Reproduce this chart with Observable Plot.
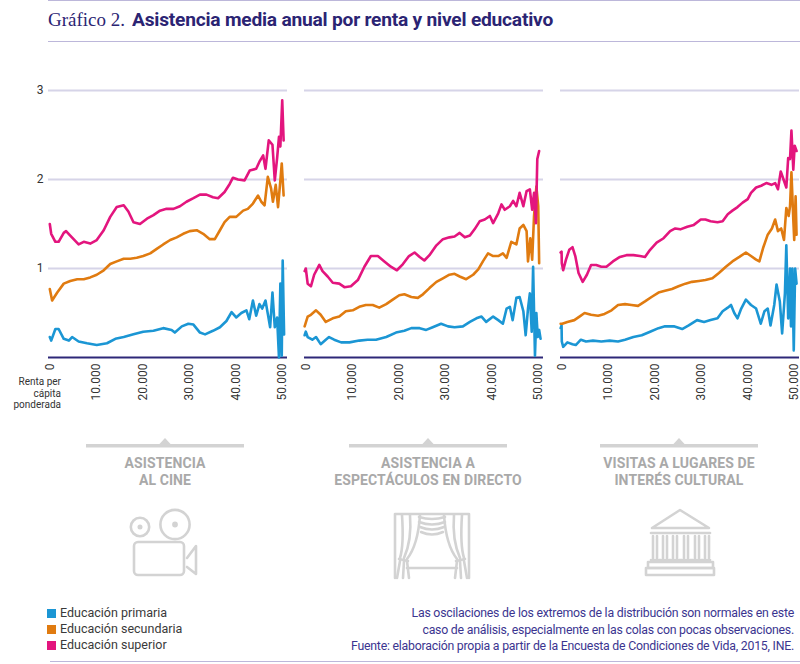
<!DOCTYPE html>
<html>
<head>
<meta charset="utf-8">
<script src="https://cdn.jsdelivr.net/npm/d3@7"></script>
<script src="https://cdn.jsdelivr.net/npm/@observablehq/plot@0.6"></script>
<style>
  html, body { margin: 0; padding: 0; background: #fff; }
  #root { position: relative; width: 800px; height: 664px; overflow: hidden; font-family: Roboto, "Liberation Sans", sans-serif; }
  .rule { position: absolute; height: 0; border-top: 1.5px solid #bcb7da; }
  #title { position: absolute; left: 48px; top: 9px; white-space: nowrap; color: #2b2473; }
  #title .num { font-family: "Liberation Serif", "DejaVu Serif", serif; font-size: 19px; font-weight: normal; }
  #title .txt { display: inline-block; font-family: Roboto, sans-serif; font-weight: 700; font-size: 18px; transform-origin: left center; margin-left: 7px; letter-spacing: -0.2px; }
  #chart { position: absolute; left: 0; top: 50px; }
  #xlabel { position: absolute; left: 0; width: 61px; top: 376px; text-align: right; font-size: 10px; line-height: 11.5px; color: #333; }
  .plabel { position: absolute; width: 260px; text-align: center; font-weight: 700; font-size: 14px; line-height: 17px; color: #a9a9a9; top: 455px; letter-spacing: 0.1px; }
  #legend { position: absolute; left: 47px; top: 605px; font-size: 12.5px; color: #3a3a3a; line-height: 16px; }
  #legend .it { display: flex; align-items: center; }
  #legend .sw { width: 9px; height: 9px; margin-right: 4px; }
  #caption { position: absolute; right: 6px; top: 605px; text-align: right; color: #3b3590; line-height: 16.5px; font-size: 12.3px; }
  #caption span { display: inline-block; white-space: nowrap; }
  #deco { position: absolute; left: 0; top: 0; }
</style>
</head>
<body>
<div id="root">
  <div class="rule" style="left:48px; width:752px; top:0px;"></div>
  <div id="title"><span class="num">Gráfico 2.</span><span class="txt" id="ttxt">Asistencia media anual por renta y nivel educativo</span></div>
  <div class="rule" style="left:48px; width:752px; top:41px;"></div>
  <div id="chart"></div>
  <div id="xlabel">Renta per<br>cápita<br>ponderada</div>
  <svg id="deco" width="800" height="664"></svg>
  <div id="plabels"></div>
  <div id="legend"></div>
  <div id="caption"></div>
  <div class="rule" style="left:50px; width:750px; top:661px;"></div>
</div>
<script>
// ---------- data ----------
const panelKeys = ["cine", "directo", "cultural"];
const panelTitles = [["ASISTENCIA", "AL CINE"], ["ASISTENCIA A", "ESPECTÁCULOS EN DIRECTO"], ["VISITAS A LUGARES DE", "INTERÉS CULTURAL"]];
const seriesNames = ["Educación primaria", "Educación secundaria", "Educación superior"];
const seriesColors = ["#1b96d4", "#e07b10", "#e3157e"];
const xTicks = [0, 10000, 20000, 30000, 40000, 50000];
const yTicks = [1, 2, 3];

const cinePrimaria = [[0,0.23],[300,0.19],[1200,0.32],[1900,0.32],[3000,0.21],[4100,0.19],[4800,0.23],[6200,0.18],[8000,0.16],[10100,0.14],[12300,0.16],[14100,0.21],[15900,0.23],[18000,0.26],[20100,0.29],[22300,0.30],[24400,0.33],[26200,0.31],[26900,0.28],[28400,0.35],[29800,0.38],[30900,0.37],[32300,0.28],[33400,0.26],[35100,0.30],[36600,0.34],[38000,0.41],[39100,0.51],[40100,0.45],[41200,0.50],[42300,0.53],[42900,0.43],[43700,0.64],[44400,0.47],[45100,0.60],[45700,0.55],[46400,0.64],[46900,0.49],[47400,0.34],[47900,0.73],[48400,0.34],[48900,0.45],[49300,0.00],[49600,0.83],[49900,0.02],[50100,1.09],[50400,0.26]];
const cineSecundaria = [[0,0.77],[500,0.64],[1600,0.73],[3000,0.83],[4400,0.86],[5900,0.88],[7300,0.88],[8700,0.90],[10100,0.93],[11600,0.98],[13000,1.05],[14400,1.08],[15900,1.11],[17300,1.11],[18700,1.12],[20100,1.14],[21600,1.17],[23000,1.22],[24400,1.27],[25900,1.32],[27300,1.35],[28700,1.39],[30100,1.42],[31600,1.43],[33000,1.39],[34400,1.33],[35500,1.33],[36600,1.43],[37600,1.52],[38700,1.58],[40100,1.58],[41600,1.65],[42600,1.67],[43700,1.73],[44800,1.82],[45500,1.75],[46200,1.71],[46900,2.03],[47600,1.90],[48000,1.75],[48600,1.94],[49100,1.69],[49600,1.99],[49900,2.18],[50300,1.82]];
const cineSuperior = [[0,1.50],[300,1.39],[1200,1.30],[1900,1.30],[3000,1.40],[3500,1.42],[4400,1.37],[6200,1.27],[7300,1.30],[8700,1.28],[10100,1.32],[11600,1.43],[13000,1.58],[14400,1.69],[15900,1.71],[16900,1.64],[18000,1.52],[19400,1.50],[20900,1.56],[22300,1.60],[23700,1.65],[25100,1.67],[26600,1.67],[28000,1.70],[29400,1.75],[30900,1.79],[32300,1.83],[33700,1.83],[35100,1.80],[36200,1.79],[37600,1.86],[38700,1.95],[39400,2.02],[40500,2.00],[41900,1.99],[43000,2.10],[44400,2.12],[45100,2.20],[45900,2.27],[46400,2.12],[47100,2.44],[47900,2.39],[48400,1.99],[48900,2.24],[49300,2.48],[49600,2.37],[50000,2.89],[50300,2.44]];

const directoPrimaria = [[-250,0.25],[0,0.29],[400,0.23],[1400,0.20],[2200,0.23],[3200,0.15],[4300,0.20],[5000,0.23],[6100,0.20],[7600,0.17],[9400,0.17],[11500,0.19],[13300,0.20],[15100,0.20],[17300,0.23],[19400,0.28],[21200,0.30],[22700,0.33],[24500,0.33],[25900,0.31],[27300,0.34],[29100,0.38],[30600,0.35],[32000,0.34],[33800,0.35],[35300,0.40],[36700,0.44],[37800,0.46],[38800,0.40],[40300,0.46],[41400,0.42],[42400,0.38],[43200,0.55],[43900,0.57],[44500,0.42],[45300,0.67],[46000,0.68],[46800,0.52],[47300,0.25],[47800,0.55],[48200,0.72],[48600,0.29],[48900,1.02],[49300,0.02],[49600,0.50],[49900,0.23],[50200,0.31],[50500,0.21]];
const directoSecundaria = [[-250,0.35],[400,0.46],[1100,0.48],[2200,0.53],[3200,0.48],[4300,0.40],[5800,0.44],[7200,0.46],[8600,0.52],[10100,0.53],[11500,0.57],[12900,0.59],[14400,0.59],[15800,0.56],[17300,0.60],[18700,0.65],[20100,0.70],[21200,0.71],[22700,0.68],[24100,0.67],[25200,0.71],[26600,0.78],[28100,0.85],[29500,0.89],[30900,0.93],[32000,0.94],[33100,0.91],[34500,0.88],[36000,0.93],[37100,0.99],[38100,1.08],[39200,1.17],[40300,1.14],[41400,1.14],[42400,1.17],[43200,1.12],[44200,1.30],[45300,1.27],[46000,1.45],[46800,1.49],[47500,1.42],[47800,1.08],[48300,1.34],[48700,1.10],[49100,1.59],[49600,1.92],[50000,1.70],[50200,1.06]];
const directoSuperior = [[-250,0.97],[0,1.00],[400,0.83],[1100,0.80],[1800,0.93],[2900,1.04],[3600,0.97],[4700,0.91],[5800,0.84],[7200,0.83],[8300,0.79],[9700,0.80],[11200,0.87],[12600,1.02],[14000,1.14],[15500,1.14],[16900,1.08],[18300,1.02],[19600,0.98],[20900,1.05],[22200,1.14],[23400,1.18],[24500,1.13],[25500,1.09],[26600,1.15],[28100,1.26],[29500,1.33],[30900,1.35],[32000,1.36],[33100,1.40],[34200,1.35],[35300,1.37],[36300,1.44],[37400,1.53],[38500,1.55],[39600,1.59],[40300,1.51],[41400,1.62],[42100,1.72],[42800,1.66],[43900,1.70],[44600,1.76],[45300,1.70],[46000,1.85],[46800,1.70],[47500,1.87],[48200,1.89],[48700,1.66],[49100,1.85],[49500,1.51],[49800,2.23],[50200,2.32]];

const culturalPrimaria = [[-250,0.33],[-50,0.36],[0,0.18],[300,0.12],[1200,0.17],[2300,0.15],[3000,0.14],[4100,0.20],[5200,0.18],[6700,0.19],[8500,0.18],[10300,0.19],[12100,0.18],[13600,0.20],[15400,0.23],[17200,0.25],[19000,0.29],[20800,0.33],[22200,0.35],[24100,0.35],[25900,0.32],[27300,0.36],[29100,0.42],[30600,0.40],[32000,0.42],[33500,0.44],[34600,0.52],[35700,0.56],[36400,0.59],[37100,0.50],[37800,0.44],[38600,0.55],[39600,0.65],[40700,0.59],[41800,0.55],[42800,0.38],[43600,0.52],[44300,0.55],[44900,0.36],[45700,0.59],[46200,0.82],[46900,0.63],[47400,0.27],[48000,0.72],[48300,1.26],[48700,0.44],[49100,1.00],[49300,0.35],[49600,1.00],[49900,0.08],[50200,1.00],[50500,0.83]];
const culturalSecundaria = [[-250,0.38],[100,0.38],[1200,0.40],[2700,0.42],[3800,0.46],[4900,0.50],[6300,0.48],[7800,0.47],[9200,0.49],[10700,0.53],[12100,0.59],[13600,0.60],[15000,0.59],[16400,0.58],[17900,0.63],[19300,0.68],[20800,0.73],[22200,0.75],[23700,0.77],[25100,0.80],[26600,0.83],[28000,0.85],[29500,0.86],[30900,0.87],[32400,0.89],[33800,0.95],[35300,1.02],[36700,1.08],[38200,1.13],[39600,1.18],[40700,1.14],[41800,1.10],[42500,1.08],[43300,1.23],[44300,1.38],[45200,1.45],[45900,1.55],[46500,1.42],[47200,1.45],[47800,1.32],[48300,1.68],[48800,1.59],[49100,1.70],[49400,2.08],[49800,1.55],[50000,1.32],[50300,1.81],[50500,1.38]];
const culturalSuperior = [[-250,1.18],[-50,1.19],[0,1.06],[300,0.98],[900,1.10],[1600,1.21],[2300,1.24],[2900,1.14],[3600,0.95],[4500,0.85],[5400,0.93],[6300,1.04],[7400,1.04],[8500,1.02],[9600,1.02],[11000,1.08],[12500,1.13],[13900,1.15],[15400,1.15],[16800,1.14],[17900,1.13],[19000,1.21],[20400,1.29],[21900,1.34],[23300,1.42],[24400,1.45],[25500,1.44],[27000,1.47],[28400,1.49],[29900,1.55],[30900,1.55],[32000,1.53],[33500,1.52],[34600,1.53],[35700,1.61],[36700,1.65],[37800,1.69],[38900,1.74],[40000,1.78],[40700,1.85],[41800,1.91],[42900,1.93],[44000,1.96],[45100,1.94],[45900,1.96],[46500,1.89],[47100,2.09],[47700,2.00],[48300,1.91],[48700,2.24],[49100,2.23],[49400,2.55],[49800,2.11],[50100,2.38],[50500,2.32]];

const captionLines = [
  "Las oscilaciones de los extremos de la distribución son normales en este",
  "caso de análisis, especialmente en las colas con pocas observaciones.",
  "Fuente: elaboración propia a partir de la Encuesta de Condiciones de Vida, 2015, INE."
];

// ---------- build table ----------
const rows = [];
const bySeries = {
  cine: [cinePrimaria, cineSecundaria, cineSuperior],
  directo: [directoPrimaria, directoSecundaria, directoSuperior],
  cultural: [culturalPrimaria, culturalSecundaria, culturalSuperior]
};
for (const p of panelKeys) {
  bySeries[p].forEach((arr, i) => {
    for (const [x, y] of arr) rows.push({panel: p, serie: seriesNames[i], x, y});
  });
}
const fmt = d => d3.format(",")(d).replace(/,/g, ".");

const chart = Plot.plot({
  width: 800,
  height: 360,
  marginLeft: 48,
  marginRight: 0,
  marginTop: 40,
  marginBottom: 53,
  style: {fontFamily: "Roboto, 'Liberation Sans', sans-serif", fontSize: "12px", color: "#333", background: "transparent", overflow: "visible"},
  fx: {domain: panelKeys, axis: null, padding: 0.066, label: null},
  x: {domain: [-280, 51135], axis: null},
  y: {domain: [0, 3], axis: null},
  color: {domain: seriesNames, range: seriesColors},
  marks: [
    Plot.ruleY(yTicks, {stroke: "#d6d4e8", strokeWidth: 2}),
    Plot.ruleY([0], {stroke: "#2e2878", strokeWidth: 2}),
    Plot.line(rows, {x: "x", y: "y", z: "serie", stroke: "serie", fx: "panel", strokeWidth: 2.6, strokeLinejoin: "round"}),
    Plot.axisX(xTicks, {tickRotate: -90, tickSize: 0, tickPadding: 6, tickFormat: fmt, fontSize: 12, fill: "#333", label: null}),
    Plot.axisY(yTicks, {tickSize: 0, tickPadding: 5, tickFormat: d => String(d), fontSize: 12, fill: "#333", label: null})
  ]
});
document.getElementById("chart").appendChild(chart);

// ---------- title fit ----------
const ttxt = document.getElementById("ttxt");
const tw = ttxt.getBoundingClientRect().width;
ttxt.style.transform = `scaleX(${421 / tw})`;

// ---------- panel labels + brackets + icons ----------
const centers = [165, 428, 679];
const plabels = document.getElementById("plabels");
panelTitles.forEach((lines, i) => {
  const d = document.createElement("div");
  d.className = "plabel";
  d.style.left = (centers[i] - 130) + "px";
  d.innerHTML = lines.join("<br>");
  plabels.appendChild(d);
});

const deco = d3.select("#deco");
const g = deco.append("g").attr("fill", "none").attr("stroke", "#d3d3d3").attr("stroke-width", 2.6).attr("stroke-linejoin", "round").attr("stroke-linecap", "round");
centers.forEach(c => {
  deco.append("rect").attr("x", c - 79).attr("y", 444).attr("width", 158).attr("height", 3.5).attr("fill", "#d3d3d3");
  deco.append("path").attr("d", `M${c - 6},444.5 L${c},438 L${c + 6},444.5 Z`).attr("fill", "#d3d3d3");
});
// camera
g.append("circle").attr("cx", 140).attr("cy", 527).attr("r", 9.2);
g.append("circle").attr("cx", 175).attr("cy", 524.5).attr("r", 14.6);
g.append("circle").attr("cx", 140).attr("cy", 527).attr("r", 1.2).attr("fill", "#d3d3d3");
g.append("circle").attr("cx", 175).attr("cy", 524.5).attr("r", 1.6).attr("fill", "#d3d3d3");
g.append("rect").attr("x", 134).attr("y", 542).attr("width", 50).attr("height", 33).attr("rx", 4);
g.append("path").attr("d", "M187,558 L196,546 L196,574 L187,567");
// curtain
g.append("path").attr("d", "M395,578 L395,514 L469,514 L469,578");
g.append("path").attr("d", "M407,568 L457,568");
const curtainL = ["M402,515 Q404,545 400,558", "M410,515 Q412,540 404,558", "M420,515 Q418,545 407,559", "M399,559 L408,561", "M400,561 L397,578", "M404,561 L403,578", "M407,561 L409,578"];
curtainL.forEach(p => {
  g.append("path").attr("d", p);
  g.append("path").attr("d", p).attr("transform", "translate(864,0) scale(-1,1)");
});
["M419,517 Q432,521 445,517", "M419,522 Q432,527 445,522", "M420,527 Q432,532 444,527", "M421,532 Q432,537 443,532"].forEach(p => g.append("path").attr("d", p));
// temple
g.append("path").attr("d", "M680,510 L652,528 L709,528 Z");
g.append("path").attr("d", "M651,533 L710,533");
[653, 663, 673, 684, 695, 705].forEach(x => {
  g.append("path").attr("d", `M${x},536 L${x},558 M${x + 4},536 L${x + 4},558`);
});
g.append("path").attr("d", "M651,560 L710,560");
g.append("path").attr("d", "M648,562 L713,562 L713,568 L648,568 Z");
g.append("path").attr("d", "M646,568 L714,568 L714,575 L646,575 Z");

// ---------- legend ----------
const legend = document.getElementById("legend");
seriesNames.forEach((s, i) => {
  const it = document.createElement("div");
  it.className = "it";
  it.innerHTML = `<div class="sw" style="background:${seriesColors[i]}"></div><span>${s}</span>`;
  legend.appendChild(it);
});

// ---------- caption ----------
const cap = document.getElementById("caption");
captionLines.forEach(t => {
  const d = document.createElement("div");
  const s = document.createElement("span");
  s.textContent = t;
  d.appendChild(s);
  cap.appendChild(d);
});
const spans = cap.querySelectorAll("span");
const lastSpan = spans[2];
const cw = lastSpan.getBoundingClientRect().width;
const ls = (443 - cw) / captionLines[2].length;
cap.style.letterSpacing = ls + "px";
</script>
</body>
</html>
